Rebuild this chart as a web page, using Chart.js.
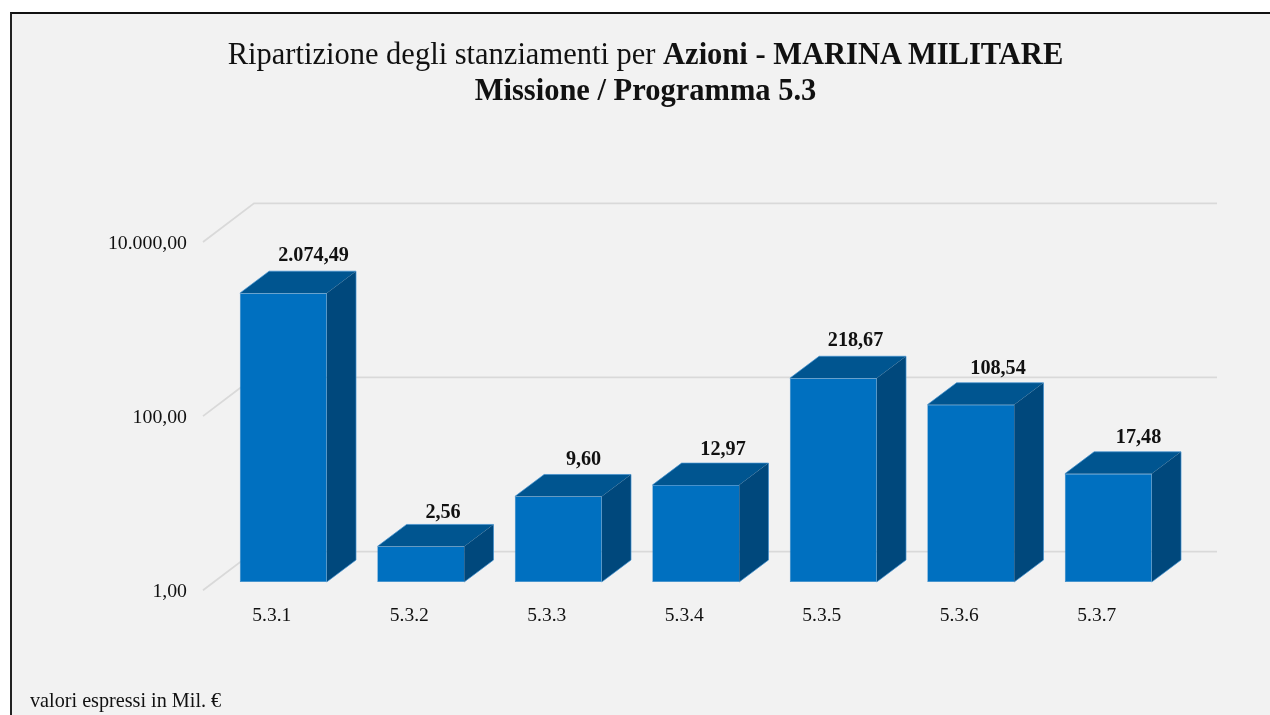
<!DOCTYPE html>
<html lang="it">
<head>
<meta charset="utf-8">
<title>Ripartizione degli stanziamenti</title>
<script src="https://cdn.jsdelivr.net/npm/chart.js@4"></script>
<style>
html,body{margin:0;padding:0;width:1270px;height:715px;overflow:hidden;background:#fff}
#panel{position:absolute;left:10px;top:12px;width:1260px;height:703px;border-top:2px solid #111;border-left:2px solid #222;background:#f2f2f2;box-sizing:border-box}
#c{position:absolute;left:0;top:0}
#title{position:absolute;left:0;top:36px;width:1291px;text-align:center;font:30.5px/36px "Liberation Serif",serif;color:#111}
#note{position:absolute;left:30px;top:689px;font:20.2px/22px "Liberation Serif",serif;color:#111}
</style>
</head>
<body>
<div id="panel"></div>
<canvas id="c" width="1270" height="715"></canvas>
<div id="title">Ripartizione degli stanziamenti per <b>Azioni - MARINA MILITARE</b><br><b>Missione / Programma 5.3</b></div>
<div id="note">valori espressi in Mil. €</div>
<script>
const categories = ['5.3.1','5.3.2','5.3.3','5.3.4','5.3.5','5.3.6','5.3.7'];
const values = [2074.49, 2.56, 9.60, 12.97, 218.67, 108.54, 17.48];
const valueLabels = ['2.074,49','2,56','9,60','12,97','218,67','108,54','17,48'];
const yTicks = [1, 100, 10000];
const yTickLabels = ['1,00','100,00','10.000,00'];

const SERIF = '"Liberation Serif", serif';
const GRID_DX = 50, GRID_DY = 38.7;      // wall depth
const BAR_SHIFT_X = 10.5, BAR_SHIFT_Y = -8.3; // bars stand inside the floor
const BAR_DX = 29.3, BAR_DY = 22;        // bar depth
const LABEL_NUDGE_X = [0, -8, -5, -3, -8, -3, 0];
const LABEL_NUDGE_Y = [0, 4, 1, 2, 0, 1, 1];

const threeD = {
  id: 'threeD',
  beforeDatasetsDraw(chart) {
    const {ctx, chartArea: a, scales: {y}} = chart;
    ctx.save();
    ctx.strokeStyle = '#d9d9d9';
    ctx.lineWidth = 1.8;
    yTicks.forEach(v => {
      const py = y.getPixelForValue(v);
      ctx.beginPath();
      ctx.moveTo(a.left - 1, py);
      ctx.lineTo(a.left + GRID_DX, py - GRID_DY);
      ctx.lineTo(a.right + GRID_DX + 0.5, py - GRID_DY);
      ctx.stroke();
    });
    ctx.restore();
  },
  beforeDatasetDraw(chart, args) {
    const {ctx} = chart;
    ctx.save();
    ctx.translate(BAR_SHIFT_X, BAR_SHIFT_Y);
    chart.getDatasetMeta(args.index).data.forEach(b => {
      const l = b.x - b.width / 2, r = b.x + b.width / 2, t = b.y, bt = b.base;
      ctx.lineWidth = 0.7;
      ctx.strokeStyle = '#3f8fcf';
      // top face
      ctx.fillStyle = '#005590';
      ctx.beginPath();
      ctx.moveTo(l, t); ctx.lineTo(l + BAR_DX, t - BAR_DY);
      ctx.lineTo(r + BAR_DX, t - BAR_DY); ctx.lineTo(r, t);
      ctx.closePath(); ctx.fill();
      // side face
      ctx.fillStyle = '#00487c';
      ctx.beginPath();
      ctx.moveTo(r, t); ctx.lineTo(r + BAR_DX, t - BAR_DY);
      ctx.lineTo(r + BAR_DX, bt - BAR_DY); ctx.lineTo(r, bt);
      ctx.closePath(); ctx.fill();
      // soft outer edge
      ctx.beginPath();
      ctx.moveTo(l, t); ctx.lineTo(l + BAR_DX, t - BAR_DY);
      ctx.lineTo(r + BAR_DX, t - BAR_DY); ctx.lineTo(r + BAR_DX, bt - BAR_DY); ctx.lineTo(r, bt);
      ctx.stroke();
    });
  },
  afterDatasetDraw(chart) {
    chart.ctx.restore();
  },
  afterDatasetsDraw(chart) {
    const {ctx} = chart;
    ctx.save();
    ctx.font = 'bold 20.2px ' + SERIF;
    ctx.fillStyle = '#111';
    ctx.textAlign = 'center';
    ctx.textBaseline = 'alphabetic';
    chart.getDatasetMeta(0).data.forEach((b, i) => {
      ctx.fillText(valueLabels[i],
        b.x + BAR_SHIFT_X + BAR_DX + 1 + LABEL_NUDGE_X[i],
        b.y + BAR_SHIFT_Y - BAR_DY - 10 + LABEL_NUDGE_Y[i]);
    });
    ctx.restore();
  }
};

new Chart(document.getElementById('c'), {
  type: 'bar',
  data: {
    labels: categories,
    datasets: [{
      data: values,
      backgroundColor: '#0070c0',
      borderColor: '#2f83c8',
      borderWidth: 0.6,
      borderSkipped: 'right',
      barPercentage: 0.79,
      categoryPercentage: 0.8,
      clip: false
    }]
  },
  options: {
    responsive: false,
    animation: false,
    layout: {padding: {top: 242, right: 103.5, bottom: 0, left: 0}},
    plugins: {legend: {display: false}, title: {display: false}, tooltip: {enabled: false}},
    scales: {
      x: {
        grid: {display: false},
        border: {display: false},
        afterFit(s) { s.height = 124.7; },
        ticks: {padding: 6, labelOffset: -1, maxRotation: 0, color: '#111', font: {family: SERIF, size: 19.5}}
      },
      y: {
        type: 'logarithmic',
        min: 1,
        max: 10000,
        grid: {display: false},
        border: {display: false},
        afterFit(s) { s.width = 204; },
        afterBuildTicks(s) { s.ticks = yTicks.map(v => ({value: v, major: true})); },
        ticks: {
          padding: 9,
          labelOffset: 2,
          color: '#111',
          font: {family: SERIF, size: 19.8},
          callback(v) { return yTickLabels[yTicks.indexOf(v)]; }
        }
      }
    }
  },
  plugins: [threeD]
});
</script>
</body>
</html>
